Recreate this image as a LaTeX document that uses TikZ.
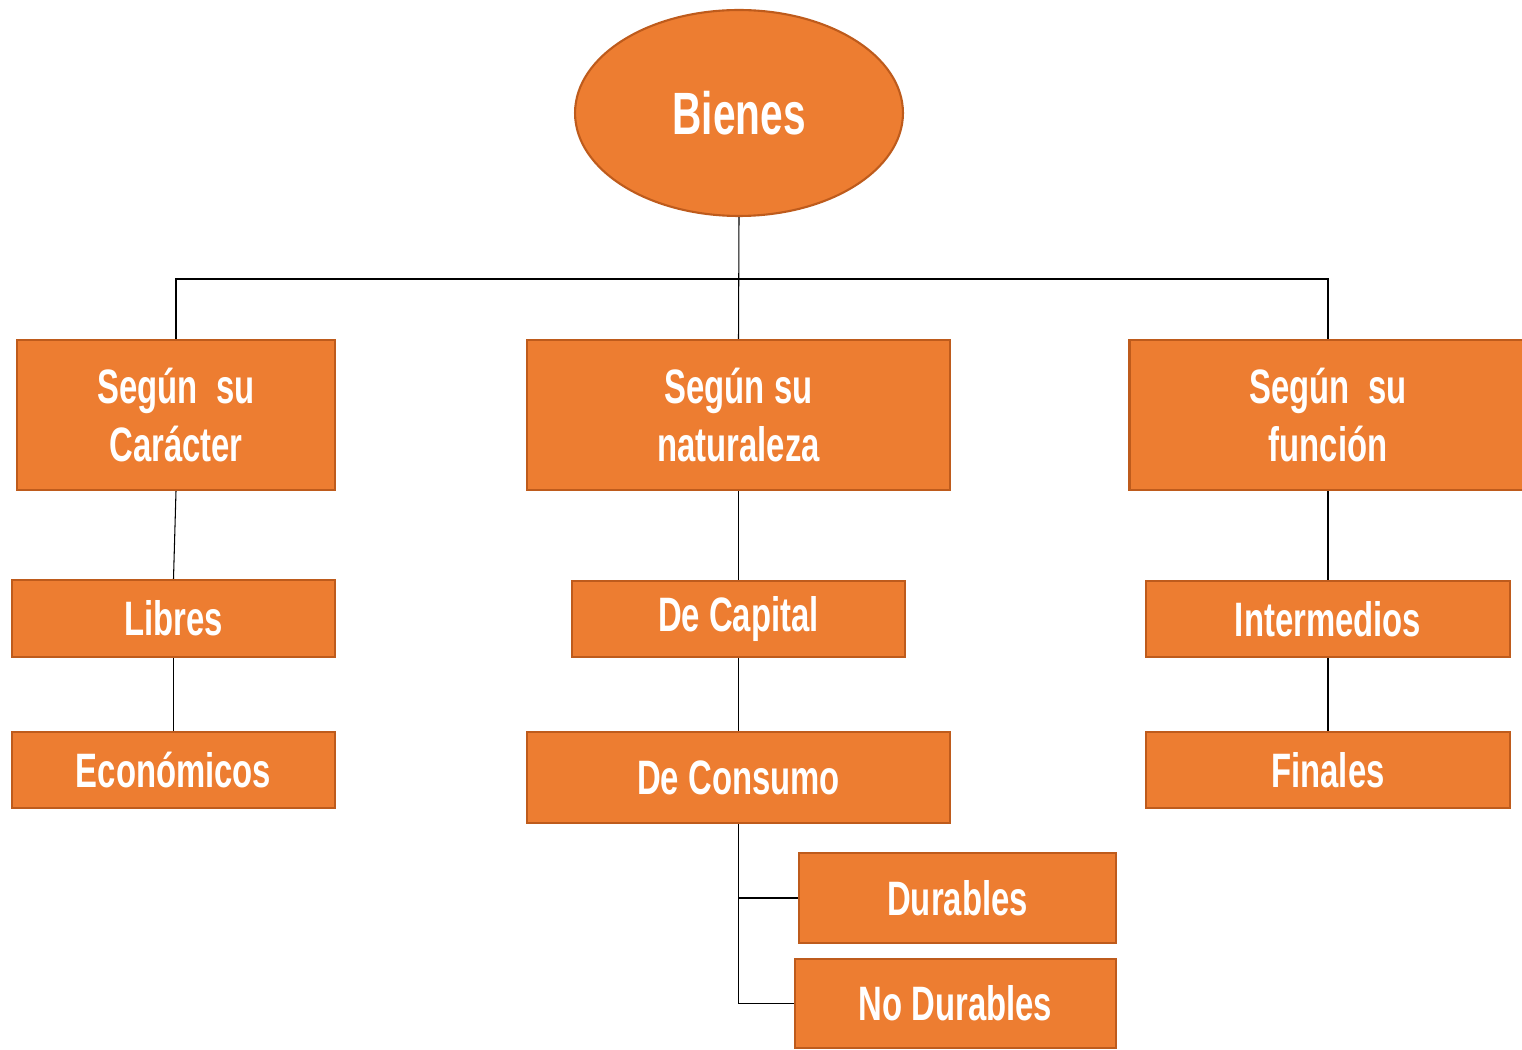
\documentclass[tikz,border=0pt]{standalone}
\usepackage{fontspec}
\setmainfont{Liberation Sans}[FakeStretch=0.68]
\usetikzlibrary{shapes.geometric}
\definecolor{boxfill}{HTML}{ED7D31}
\definecolor{boxline}{HTML}{BE5B1C}
\tikzset{
  px/.style={x=0.02cm,y=-0.02cm},
  bx/.style={draw=boxline,fill=boxfill,line width=1.2pt,inner sep=0pt,
    text=white,font=\fontsize{27.5}{33}\selectfont\bfseries,align=center},
  conn/.style={draw=black,line width=0.6pt}
}
\begin{document}
\begin{tikzpicture}[px]
\useasboundingbox (0,0) rectangle (1522,1050);
\node[bx,ellipse,minimum width=6.56cm,minimum height=4.12cm,font=\fontsize{34}{40}\selectfont\bfseries] (bienes) at (739,113) {Bienes};
\node[bx,minimum width=6.36cm,minimum height=3.0cm] (car) at (176,415) {Según\ \ su\\Carácter};
\node[bx,minimum width=8.46cm,minimum height=3.0cm] (nat) at (738.5,415) {Según su\\naturaleza};
\node[bx,minimum width=7.94cm,minimum height=3.0cm] (fun) at (1328,415) {Según\ \ su\\función};
\node[bx,minimum width=6.46cm,minimum height=1.54cm] (lib) at (173.5,618.5) {Libres};
\node[bx,minimum width=6.46cm,minimum height=1.52cm] (eco) at (173.5,770) {Económicos};
\node[bx,minimum width=6.66cm,minimum height=1.52cm] (cap) at (738.5,619) {De Capital};
\node[bx,minimum width=8.46cm,minimum height=1.82cm] (cons) at (738.5,777.5) {De Consumo};
\node[bx,minimum width=6.34cm,minimum height=1.80cm] (dur) at (957.5,898) {Durables};
\node[bx,minimum width=6.42cm,minimum height=1.78cm] (nodur) at (955.5,1003.5) {No Durables};
\node[bx,minimum width=7.28cm,minimum height=1.52cm] (inter) at (1328,619) {Intermedios};
\node[bx,minimum width=7.28cm,minimum height=1.52cm] (fin) at (1328,770) {Finales};
\coordinate (bus) at (739,279);
\draw[conn] (bienes.south) -- (nat.north);
\draw[conn] (car.north) |- (bus) -| (fun.north);
\draw[conn] (car.south) -- (lib.north);
\draw[conn] (lib.south) -- (eco.north);
\draw[conn] (nat.south) -- (cap.north);
\draw[conn] (cap.south) -- (cons.north);
\draw[conn] (fun.south) -- (inter.north);
\draw[conn] (inter.south) -- (fin.north);
\draw[conn] (cons.south) |- (dur.west);
\draw[conn] (cons.south) |- (nodur.west);
\end{tikzpicture}
\end{document}
